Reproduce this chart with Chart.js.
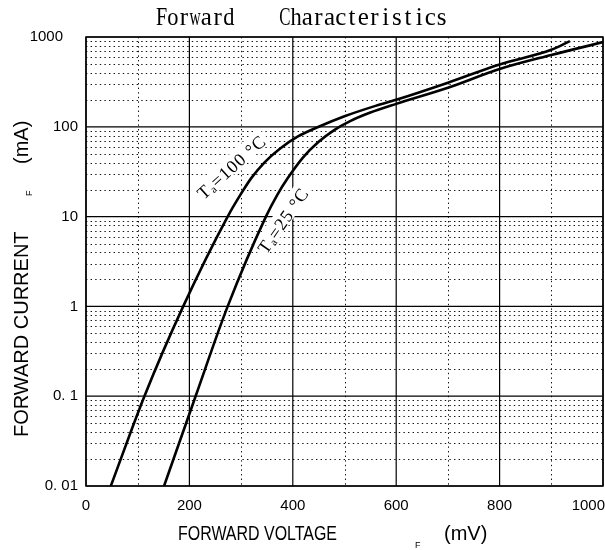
<!DOCTYPE html>
<html>
<head>
<meta charset="utf-8">
<script src="https://cdn.jsdelivr.net/npm/chart.js@4.4.0/dist/chart.umd.min.js"></script>
<style>
html, body { margin: 0; padding: 0; background: #fff; }
#wrap { width: 605px; height: 550px; }
</style>
</head>
<body>
<div id="wrap"><canvas id="chart"></canvas></div>
<script>
//Forward voltage (mV) and forward current (mA)
var volt100 = [48, 113, 188, 274, 300, 320, 345, 375, 410, 450, 500, 560, 600, 700, 800, 900, 936];
var curr100 = [0.01, 0.1, 1, 10, 18, 27, 40, 57, 78, 100, 131, 171, 200, 310, 495, 720, 900];
var volt25 = [151, 212, 274, 348, 370, 390, 420, 450, 480, 510, 550, 600, 700, 800, 900, 1000];
var curr25 = [0.01, 0.1, 1, 10, 17.5, 26.7, 45.7, 68, 92, 115, 144, 180, 272, 440, 630, 877];

//Axis ticks
var xMajor = [0, 200, 400, 600, 800, 1000];
var xMinor = [100, 300, 500, 700, 900];
var xLabels = ['0', '200', '400', '600', '800', '1000'];
var yMajor = [0.01, 0.1, 1, 10, 100, 1000];
var yLabels = ['0. 01', '0. 1', '1', '10', '100', '1000'];
var yMinorSteps = [2, 3, 4, 5, 6, 7, 8, 9];

var titleText = 'Forward    Characteristics';

function toPoints(xs, ys) {
    var pts = [];
    for (var i = 0; i < xs.length; i++) pts.push({x: xs[i], y: ys[i]});
    return pts;
}

function line(ctx, x1, y1, x2, y2) {
    ctx.beginPath();
    ctx.moveTo(x1, y1);
    ctx.lineTo(x2, y2);
    ctx.stroke();
}

//draws "T" + subscript "a" + rest, rotated around its centre
function curveLabel(ctx, px, py, angle, rest) {
    ctx.save();
    ctx.translate(px, py);
    ctx.rotate(angle * Math.PI / 180);
    ctx.letterSpacing = '1px';
    ctx.font = '18px "Liberation Serif"';
    var wT = ctx.measureText('T').width;
    var wr = ctx.measureText(rest).width;
    ctx.font = '11px "Liberation Serif"';
    var wa = ctx.measureText('a').width;
    var total = wT + wa + wr;
    ctx.fillStyle = '#fff';
    ctx.fillRect(-total / 2 - 3, -12, total + 6, 18);
    ctx.fillStyle = '#000';
    ctx.textBaseline = 'alphabetic';
    ctx.textAlign = 'left';
    var x0 = -total / 2;
    ctx.font = '18px "Liberation Serif"';
    ctx.fillText('T', x0, 5);
    ctx.font = '11px "Liberation Serif"';
    ctx.fillText('a', x0 + wT, 7);
    ctx.font = '18px "Liberation Serif"';
    ctx.fillText(rest, x0 + wT + wa, 5);
    ctx.restore();
}

var framePlugin = {
    id: 'frame',
    beforeDatasetsDraw: function (chart) {
        var ctx = chart.ctx;
        var a = chart.chartArea;
        var xs = chart.scales.x, ys = chart.scales.y;
        ctx.save();

        //dotted minor grid
        ctx.strokeStyle = '#111';
        ctx.lineWidth = 1;
        ctx.setLineDash([1.4, 3.2]);
        xMinor.forEach(function (v) {
            var p = Math.round(xs.getPixelForValue(v)) + 0.5;
            line(ctx, p, a.top, p, a.bottom);
        });
        for (var d = 0; d < yMajor.length - 1; d++) {
            yMinorSteps.forEach(function (m) {
                var p = Math.round(ys.getPixelForValue(yMajor[d] * m)) + 0.5;
                line(ctx, a.left, p, a.right, p);
            });
        }

        //solid major grid
        ctx.setLineDash([]);
        ctx.strokeStyle = '#000';
        ctx.lineWidth = 1.2;
        xMajor.forEach(function (v) {
            var p = xs.getPixelForValue(v);
            line(ctx, p, a.top, p, a.bottom);
        });
        yMajor.forEach(function (v) {
            var p = ys.getPixelForValue(v);
            line(ctx, a.left, p, a.right, p);
        });
        ctx.lineWidth = 1.5;
        ctx.strokeRect(a.left, a.top, a.right - a.left, a.bottom - a.top);

        //curve labels
        curveLabel(ctx, xs.getPixelForValue(283), ys.getPixelForValue(35), -42, '=100 \u00b0C');
        curveLabel(ctx, xs.getPixelForValue(383), ys.getPixelForValue(8.9), -55, '=25 \u00b0C');

        //tick labels
        ctx.fillStyle = '#000';
        ctx.font = '15px "Liberation Sans"';
        ctx.textAlign = 'center';
        ctx.textBaseline = 'middle';
        xMajor.forEach(function (v, i) {
            var p = xs.getPixelForValue(v);
            if (i === xMajor.length - 1) {
                ctx.textAlign = 'right';
                p = a.right + 2;
            }
            ctx.fillText(xLabels[i], p, a.bottom + 20);
        });
        ctx.textAlign = 'right';
        yMajor.forEach(function (v, i) {
            var off = (i === yMajor.length - 1) ? 23 : 8;
            ctx.fillText(yLabels[i], a.left - off, ys.getPixelForValue(v));
        });

        //axis titles
        ctx.textAlign = 'left';
        ctx.textBaseline = 'alphabetic';
        ctx.font = '20px "Liberation Sans"';
        ctx.fillText('FORWARD VOLTAGE', 178, 540, 159);
        ctx.font = '9px "Liberation Sans"';
        ctx.fillText('F', 415, 548);
        ctx.font = '20px "Liberation Sans"';
        ctx.fillText('(mV)', 444, 540);

        ctx.save();
        ctx.translate(28, 0);
        ctx.rotate(-Math.PI / 2);
        ctx.font = '20px "Liberation Sans"';
        ctx.fillText('FORWARD CURRENT', -437, 0, 214);
        ctx.font = '9px "Liberation Sans"';
        ctx.fillText('F', -196, 4);
        ctx.font = '20px "Liberation Sans"';
        ctx.fillText('(mA)', -164, 0);
        ctx.restore();

        //title, drawn on a fixed pitch like the original mono font
        ctx.font = '25px "Liberation Serif"';
        ctx.textAlign = 'center';
        for (var i = 0; i < titleText.length; i++) {
            ctx.fillText(titleText[i], 156 + 11.2 * i + 5.6, 25, 11.2);
        }
        ctx.restore();
    }
};

var ctx = document.getElementById('chart').getContext('2d');
var chart = new Chart(ctx, {
    type: 'scatter',
    data: {
        datasets: [{
            label: 'Ta=100 \u00b0C',
            data: toPoints(volt100, curr100),
            showLine: true,
            borderColor: '#000',
            borderWidth: 2.6,
            pointRadius: 0,
            cubicInterpolationMode: 'monotone'
        }, {
            label: 'Ta=25 \u00b0C',
            data: toPoints(volt25, curr25),
            showLine: true,
            borderColor: '#000',
            borderWidth: 2.6,
            pointRadius: 0,
            cubicInterpolationMode: 'monotone'
        }]
    },
    plugins: [framePlugin],
    options: {
        responsive: true,
        maintainAspectRatio: false,
        animation: false,
        layout: {padding: {left: 86, right: 2, top: 37, bottom: 64}},
        plugins: {legend: {display: false}, tooltip: {enabled: false}, title: {display: false}},
        scales: {
            x: {type: 'linear', min: 0, max: 1000, display: false},
            y: {type: 'logarithmic', min: 0.01, max: 1000, display: false}
        }
    }
});
</script>
</body>
</html>
